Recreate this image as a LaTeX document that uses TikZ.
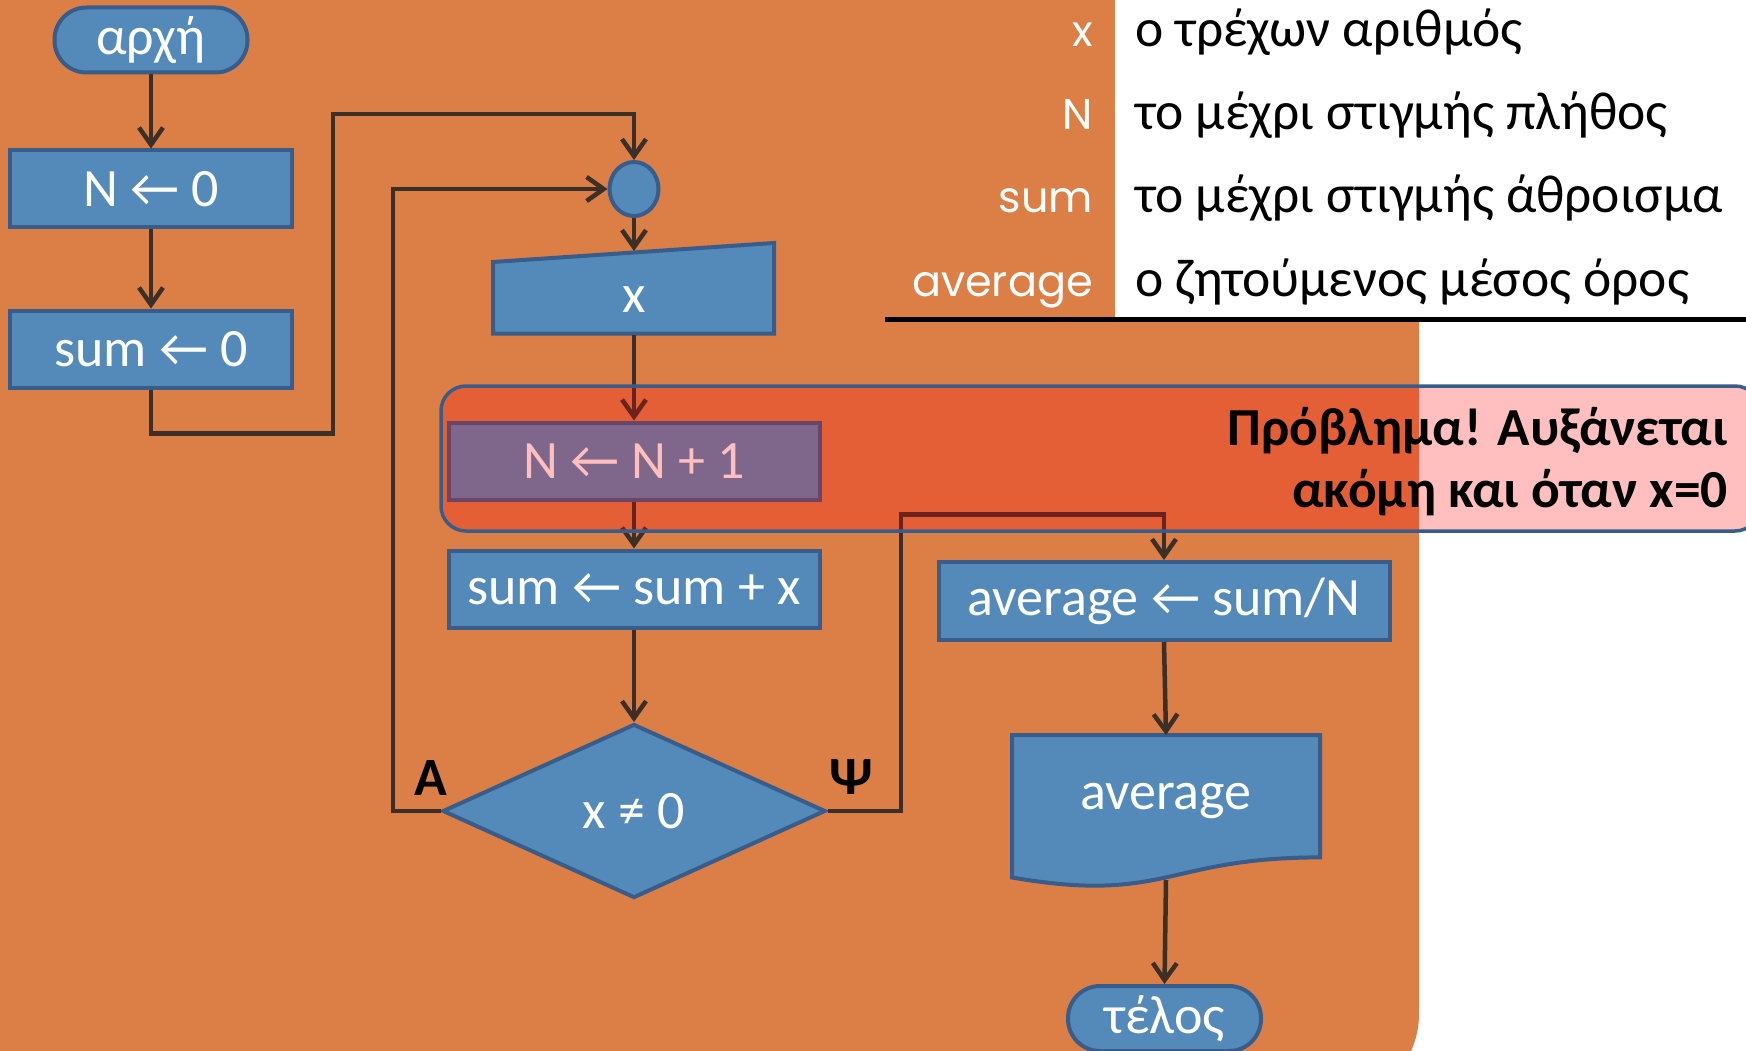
\documentclass[tikz,border=0pt]{standalone}
\usepackage{fontspec}
\setmainfont{Carlito}
\newfontfamily\geofont{Poppins}
\usetikzlibrary{arrows.meta,shapes.geometric}
\definecolor{bg}{RGB}{219,127,71}
\definecolor{boxfill}{RGB}{84,138,185}
\definecolor{boxline}{RGB}{56,93,138}
\definecolor{conn}{RGB}{59,47,40}
\newcommand\myfs{\fontsize{54}{64}\selectfont}
\newcommand\legfs{\fontsize{53.5}{63}\selectfont}
\begin{document}
\begin{tikzpicture}[x=1pt,y=-1pt,
  box/.style={draw=boxline, line width=4pt, fill=boxfill, text=white, font=\myfs, inner sep=0pt},
  proc/.style={box, rectangle, minimum height=77pt},
  term/.style={box, rectangle, rounded corners=32pt, minimum width=193pt, minimum height=65pt},
  shapeline/.style={draw=boxline, line width=4pt, fill=boxfill},
  intext/.style={text=white, font=\myfs, inner sep=0pt},
  flow/.style={draw=conn, line width=4.5pt, -{Straight Barb[length=17pt,width=24pt]}},
  lbl/.style={font=\myfs\bfseries, text=black, inner sep=0pt},
  legl/.style={font=\geofont\fontsize{43}{50}\selectfont, text=white, inner sep=0pt, anchor=base east},
  legd/.style={font=\legfs, text=black, inner sep=0pt, anchor=base west},
  warnfs/.style={font=\fontsize{53.5}{64}\selectfont\bfseries, text=black, inner sep=0pt, anchor=base east}
]
\useasboundingbox (0,0) rectangle (1746,1051);
\begin{scope}
\clip (0,0) rectangle (1746,1051);
\fill[white] (0,0) rectangle (1746,1051);
\fill[bg, rounded corners=90pt] (-100,-100) rectangle (1419,1104);
% legend
\fill[white] (1115,-5) rectangle (1751,317);
\draw[line width=5pt] (885,319.5) -- (1751,319.5);
\node[legl] (lx) at (1093,47) {x};
\node[legl] (lN) at (1093,130) {N};
\node[legl] (ls) at (1093,213) {sum};
\node[legl] (la) at (1093,296) {average};
\node[legd] (dx) at (1135,47) {ο τρέχων αριθμός};
\node[legd] (dN) at (1135,130) {το μέχρι στιγμής πλήθος};
\node[legd] (ds) at (1135,213) {το μέχρι στιγμής άθροισμα};
\node[legd] (da) at (1135,296) {ο ζητούμενος μέσος όρος};
% flowchart nodes
\node[term] (start) at (151,40) {αρχή};
\node[proc, minimum width=282pt] (n0) at (151,189) {N ← 0};
\node[proc, minimum width=282pt] (s0) at (151,349) {sum ← 0};
\node[box, ellipse, minimum width=49pt, minimum height=54pt] (c) at (634,189) {};
\draw[shapeline] (493,262) -- (774,243) -- (774,333.5) -- (493,333.5) -- cycle;
\node[intext] (inp) at (634,300) {x};
\coordinate (inptop) at (634,251);
\coordinate (inpbot) at (634,335);
\node[proc, minimum width=371pt] (nn) at (634,461) {N ← N + 1};
\node[proc, minimum width=371pt] (ss) at (634,589) {sum ← sum + x};
\node[box, diamond, minimum width=383pt, minimum height=174pt] (d) at (634,811) {x ≠ 0};
\node[proc, minimum width=451pt, minimum height=78pt] (avg) at (1164,601) {average ← sum/N};
\draw[shapeline] (1012,735) -- (1320,735) -- (1320,857.4) .. controls (1166,857.4) and (1166,904) .. (1012,877.5) -- cycle;
\node[intext] (doc) at (1166,801) {average};
\coordinate (doctop) at (1166,735);
\coordinate (docbot) at (1166,880);
\node[term] (end) at (1164.5,1018.5) {τέλος};
\node[lbl] (lA) at (431,778) {Α};
\node[lbl] (lY) at (851,777) {Ψ};
% connectors
\coordinate (topbend) at (333,114);
\coordinate (lb) at (393,189);
\coordinate (rb) at (901,514.5);
\draw[flow] (start) -- (n0);
\draw[flow] (n0) -- (s0);
\draw[flow] (s0.south) -- ++(0,44) -| (topbend) -| (c.north);
\draw[flow] (c.south) -- (inptop);
\draw[flow] (inpbot) -- (nn.north);
\draw[flow] (nn) -- (ss);
\draw[flow] (ss) -- (d);
\draw[flow] (d.west) -| (lb) -- (c.west);
\draw[flow] (d.east) -| (rb) -| (avg.north);
\draw[flow] (avg.south) -- (doctop);
\draw[flow] (docbot) -- (end.north);
% highlight
\node[draw=boxline, line width=3.5pt, fill=red, fill opacity=0.25, rounded corners=25pt, minimum width=1319pt, minimum height=145pt, inner sep=0pt] (warn) at (1100.5,458.5) {};
\node[warnfs] (w1) at (1728,445) {Πρόβλημα! Αυξάνεται};
\node[warnfs] (w2) at (1728,507) {ακόμη και όταν x=0};
\end{scope}
\end{tikzpicture}
\end{document}
